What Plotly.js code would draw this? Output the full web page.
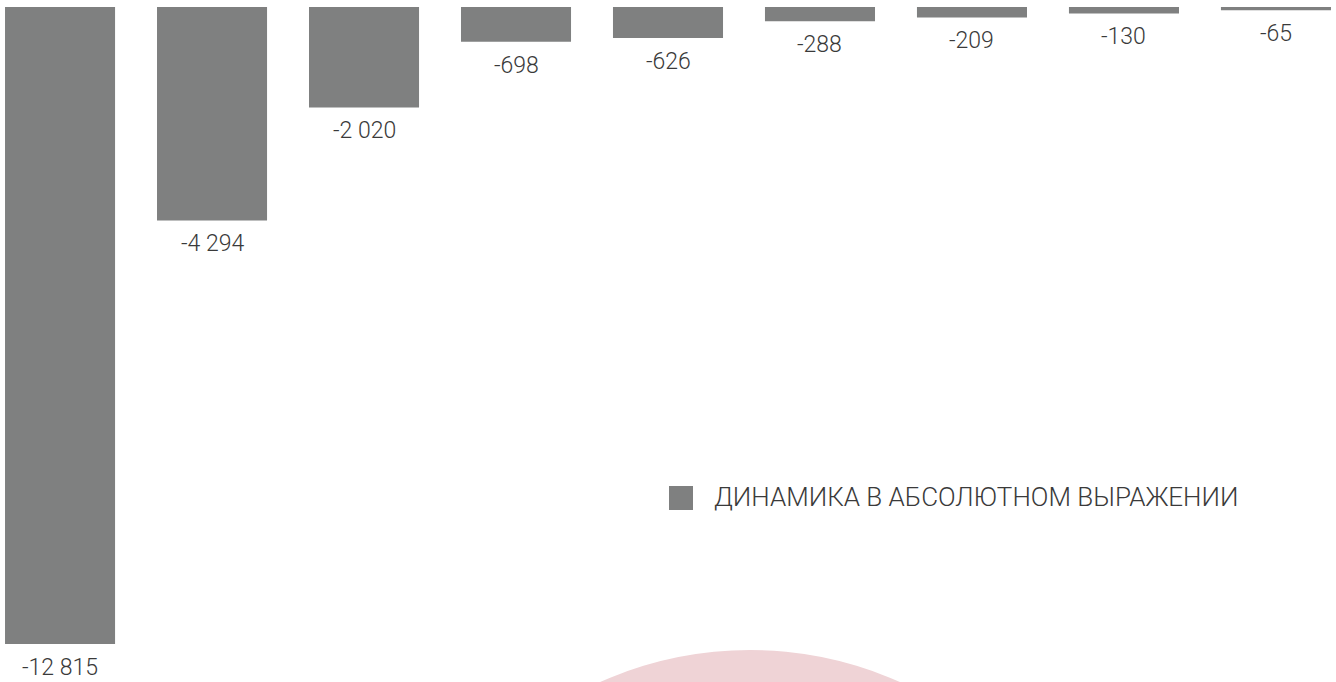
<!DOCTYPE html>
<html>
<head>
<meta charset="utf-8">
<script src="https://cdn.plot.ly/plotly-3.0.1.min.js"></script>
<style>html,body{margin:0;padding:0;background:#fff;}#chart{width:1336px;height:682px;}</style>
</head>
<body>
<div id="chart"></div>
<script>
const categories = ['Позиция 1','Позиция 2','Позиция 3','Позиция 4','Позиция 5','Позиция 6','Позиция 7','Позиция 8','Позиция 9'];
const values = [-12815, -4294, -2020, -698, -626, -288, -209, -130, -65];
const seriesName = 'ДИНАМИКА В АБСОЛЮТНОМ ВЫРАЖЕНИИ';

function fmt(v){
  const s = Math.abs(v).toString().replace(/\B(?=(\d{3})+(?!\d))/g, ' ');
  return (v < 0 ? '-' : '') + s;
}

const labelFont = {family: 'Roboto, "Liberation Sans", sans-serif', size: 23, color: '#3a3a3a', weight: 300};

const trace = {
  type: 'bar',
  x: categories,
  y: values,
  name: seriesName,
  width: 0.724,
  marker: {color: '#7f8080'},
  hoverinfo: 'none',
  showlegend: false
};

const annotations = categories.map((c, i) => ({
  x: c, y: values[i], xref: 'x', yref: 'y',
  text: fmt(values[i]), showarrow: false,
  xanchor: 'center', yanchor: 'top', yshift: -8,
  font: labelFont
}));

annotations.push({
  xref: 'paper', yref: 'paper', x: 712/1336, y: 1 - 497/682,
  xanchor: 'left', yanchor: 'middle', showarrow: false,
  text: seriesName,
  font: {family: 'Roboto, "Liberation Sans", sans-serif', size: 26, color: '#3a3a3a', weight: 300}
});

const layout = {
  width: 1336, height: 682,
  margin: {l: 0, r: 0, t: 0, b: 0},
  paper_bgcolor: '#ffffff', plot_bgcolor: '#ffffff',
  showlegend: false,
  xaxis: {type: 'category', range: [-0.395, 8.395], visible: false, fixedrange: true},
  yaxis: {range: [-13580, 141], visible: false, fixedrange: true, zeroline: false},
  shapes: [
    {type: 'circle', xref: 'paper', yref: 'paper', layer: 'below',
     x0: 383/1336, x1: 1117/1336, y0: 1 - 1384/682, y1: 1 - 650/682,
     fillcolor: '#efd3d6', line: {width: 0}},
    {type: 'rect', xref: 'paper', yref: 'paper',
     x0: 669/1336, x1: 693/1336, y0: 1 - 510/682, y1: 1 - 486/682,
     fillcolor: '#7f8080', line: {width: 0}}
  ],
  annotations: annotations
};

Plotly.newPlot('chart', [trace], layout, {displayModeBar: false, staticPlot: true});
</script>
</body>
</html>
